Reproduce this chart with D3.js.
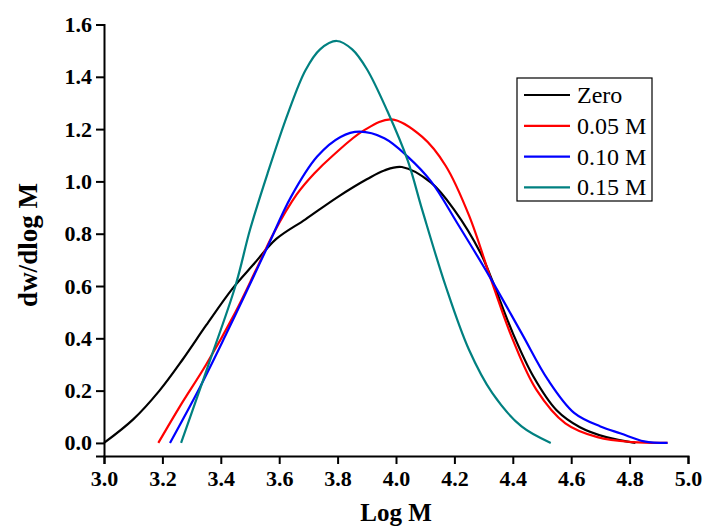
<!DOCTYPE html>
<html><head><meta charset="utf-8">
<script src="https://cdn.jsdelivr.net/npm/d3@7"></script>
<style>body{margin:0;background:#fff}svg{display:block}</style>
</head><body>
<svg id="c" width="705" height="530"></svg>
<script>
const seriesNames = ["Zero", "0.05 M", "0.10 M", "0.15 M"];
const seriesColors = ["#000000", "#ff0000", "#0000ff", "#008080"];
const xTicks = [3.0,3.2,3.4,3.6,3.8,4.0,4.2,4.4,4.6,4.8,5.0];
const yTicks = [0.0,0.2,0.4,0.6,0.8,1.0,1.2,1.4,1.6];

const zeroX = [3.0,3.1,3.19,3.27,3.35,3.44,3.51,3.59,3.69,3.8,3.9,3.96,4.02,4.12,4.2,4.29,4.33,4.4,4.47,4.55,4.63,4.72,4.82];
const zeroY = [0.0,0.09,0.2,0.32,0.45,0.59,0.68,0.78,0.855,0.94,1.008,1.042,1.055,0.995,0.89,0.725,0.62,0.42,0.255,0.125,0.06,0.022,0.0];

const m05X = [3.186,3.26,3.35,3.45,3.52,3.58,3.66,3.72,3.785,3.89,3.985,4.09,4.17,4.25,4.33,4.4,4.48,4.58,4.69,4.81,4.93];
const m05Y = [0.0,0.14,0.3,0.5,0.66,0.8,0.95,1.03,1.1,1.195,1.237,1.17,1.06,0.87,0.61,0.395,0.205,0.075,0.022,0.003,0.0];

const m10X = [3.226,3.33,3.42,3.48,3.56,3.64,3.73,3.81,3.875,3.96,4.04,4.12,4.21,4.32,4.43,4.52,4.61,4.7,4.77,4.85,4.93];
const m10Y = [0.0,0.216,0.42,0.56,0.75,0.94,1.095,1.17,1.19,1.165,1.095,1.0,0.84,0.637,0.42,0.242,0.115,0.063,0.036,0.006,0.0];

const m15X = [3.264,3.32,3.36,3.45,3.5,3.56,3.63,3.69,3.74,3.797,3.85,3.9,3.97,4.04,4.09,4.17,4.25,4.33,4.43,4.53];
const m15Y = [0.0,0.178,0.306,0.6,0.815,1.03,1.26,1.425,1.505,1.537,1.505,1.43,1.27,1.08,0.89,0.6,0.356,0.19,0.063,0.0];

const allX = [zeroX, m05X, m10X, m15X];
const allY = [zeroY, m05Y, m10Y, m15Y];

const svg = d3.select("#c");
const x = d3.scaleLinear().domain([3, 5]).range([104, 688]);
const y = d3.scaleLinear().domain([-0.05, 1.6]).range([456, 24.5]);

const font = "'Liberation Serif','Times New Roman',serif";

const xMinor = d3.range(3.1, 5.0, 0.2);
const yMinor = d3.range(0.1, 1.6, 0.2);

const gx = svg.append("g").attr("transform","translate(0,456)");
gx.call(d3.axisBottom(x).tickValues(xMinor).tickSize(4).tickFormat(""));
gx.call(d3.axisBottom(x).tickValues(xTicks).tickSize(8).tickPadding(6).tickFormat(d3.format(".1f")));
const gy = svg.append("g").attr("transform","translate(104,0)");
gy.call(d3.axisLeft(y).tickValues(yMinor).tickSize(4).tickFormat(""));
gy.call(d3.axisLeft(y).tickValues(yTicks).tickSize(8).tickPadding(4).tickFormat(d3.format(".1f")));

svg.selectAll(".domain").attr("stroke","#000").attr("stroke-width",2);
svg.selectAll(".tick line").attr("stroke","#000").attr("stroke-width",2);
svg.selectAll(".tick text").attr("font-family",font).attr("font-weight","bold").attr("font-size",22).attr("fill","#000");

const line = d3.line().x(d=>x(d[0])).y(d=>y(d[1])).curve(d3.curveCatmullRom.alpha(0.5));
seriesNames.forEach((n,i)=>{
  const pts = allX[i].map((v,j)=>[v, allY[i][j]]);
  svg.append("path").attr("d", line(pts)).attr("fill","none")
    .attr("stroke", seriesColors[i]).attr("stroke-width",2.2);
});

svg.append("text").attr("x",396).attr("y",521).attr("text-anchor","middle")
  .attr("font-family",font).attr("font-weight","bold").attr("font-size",25).text("Log M");
svg.append("text").attr("transform","translate(37,245) rotate(-90)").attr("text-anchor","middle")
  .attr("font-family",font).attr("font-weight","bold").attr("font-size",27).text("dw/dlog M");

const lg = svg.append("g");
lg.append("rect").attr("x",517).attr("y",78).attr("width",135).attr("height",123)
  .attr("fill","#fff").attr("stroke","#000").attr("stroke-width",1.2);
seriesNames.forEach((n,i)=>{
  const yy = 95 + i*30.8;
  lg.append("line").attr("x1",524).attr("x2",570).attr("y1",yy).attr("y2",yy)
    .attr("stroke",seriesColors[i]).attr("stroke-width",2.2);
  lg.append("text").attr("x",577).attr("y",yy+8).attr("font-family",font)
    .attr("font-size",24).text(n);
});
</script>
</body></html>
